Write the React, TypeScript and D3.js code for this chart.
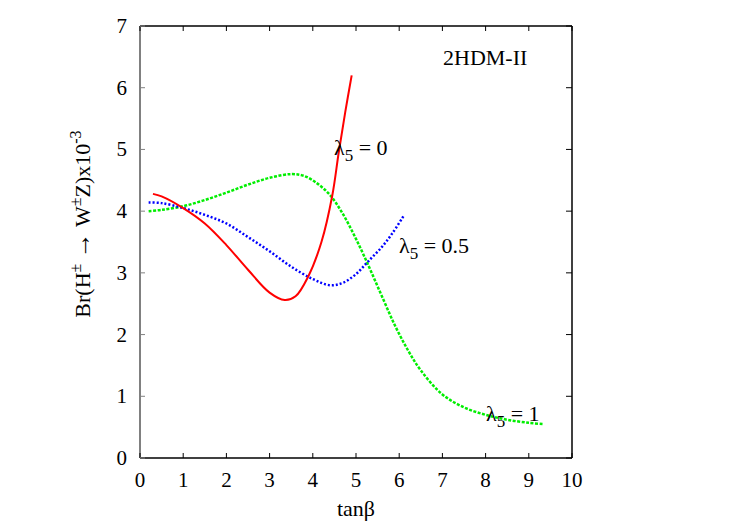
import React from "react";
import * as d3 from "d3";

// tanβ vs Br(H± -> W± Z) x 10^-3
const redX = [0.3, 0.5, 1.0, 1.5, 2.0, 2.5, 3.0, 3.35, 3.6, 3.9, 4.2, 4.45, 4.6, 4.75, 4.9];
const redY = [4.28, 4.24, 4.05, 3.8, 3.45, 3.05, 2.68, 2.56, 2.62, 2.95, 3.5, 4.25, 4.95, 5.6, 6.2];

const blueX = [0.2, 0.5, 1.0, 1.5, 2.0, 2.5, 3.0, 3.5, 4.0, 4.4, 4.7, 5.0, 5.3, 5.6, 5.85, 6.1];
const blueY = [4.14, 4.13, 4.05, 3.94, 3.8, 3.58, 3.35, 3.1, 2.9, 2.8, 2.84, 2.98, 3.2, 3.42, 3.65, 3.92];

const greenX = [0.2, 0.5, 1.0, 1.5, 2.0, 2.5, 3.0, 3.5, 3.8, 4.1, 4.4, 4.7, 5.0, 5.3, 5.6, 5.9, 6.2, 6.5, 7.0, 7.5, 8.0, 8.5, 9.0, 9.35];
const greenY = [4.0, 4.02, 4.08, 4.18, 4.3, 4.43, 4.54, 4.6, 4.57, 4.45, 4.26, 3.95, 3.55, 3.1, 2.62, 2.15, 1.75, 1.42, 1.03, 0.82, 0.7, 0.62, 0.57, 0.55];

const xTicks = [0, 1, 2, 3, 4, 5, 6, 7, 8, 9, 10];
const yTicks = [0, 1, 2, 3, 4, 5, 6, 7];

const width = 750;
const height = 525;
const margin = { top: 26, right: 178, bottom: 67, left: 140 };

export default function App() {
  const x = d3.scaleLinear().domain([0, 10]).range([margin.left, width - margin.right]);
  const y = d3.scaleLinear().domain([0, 7]).range([height - margin.bottom, margin.top]);

  function path(xs: number[], ys: number[]) {
    const pts = xs.map((v, i) => [x(v), y(ys[i])] as [number, number]);
    return d3.line().curve(d3.curveCatmullRom.alpha(0.5))(pts) || "";
  }

  const x0 = x(0);
  const x1 = x(10);
  const y0 = y(0);
  const y1 = y(7);
  const font = "'Liberation Serif', 'Times New Roman', serif";

  return (
    <svg
      width={width}
      height={height}
      style={{ position: "absolute", left: 0, top: 0, background: "white" }}
      fontFamily={font}
    >
      {/* frame */}
      <line x1={x0} x2={x1} y1={y1} y2={y1} stroke="black" strokeWidth={1.5} />
      <line x1={x1} x2={x1} y1={y1} y2={y0} stroke="black" strokeWidth={1.5} />
      <line x1={x0} x2={x1} y1={y0} y2={y0} stroke="black" strokeWidth={1.5} />
      <line x1={x0} x2={x0} y1={y1} y2={y0} stroke="#808080" strokeWidth={2} />

      {xTicks.map((t) => (
        <g key={"x" + t}>
          <line x1={x(t)} x2={x(t)} y1={y0} y2={y0 - 5} stroke="black" strokeWidth={1} />
          <line x1={x(t)} x2={x(t)} y1={y1} y2={y1 + 5} stroke="black" strokeWidth={1} />
          <text x={x(t)} y={y0 + 29} fontSize={21} textAnchor="middle">
            {t}
          </text>
        </g>
      ))}
      {yTicks.map((t) => (
        <g key={"y" + t}>
          <line x1={x0} x2={x0 + 5} y1={y(t)} y2={y(t)} stroke="#808080" strokeWidth={1} />
          <line x1={x1} x2={x1 - 6} y1={y(t)} y2={y(t)} stroke="black" strokeWidth={1} />
          <text x={127} y={y(t) + 7} fontSize={21} textAnchor="end">
            {t}
          </text>
        </g>
      ))}

      {/* curves */}
      <path d={path(greenX, greenY)} fill="none" stroke="#00ee00" strokeWidth={2.5} strokeDasharray="3,1.5" />
      <path d={path(blueX, blueY)} fill="none" stroke="#0000ff" strokeWidth={2.5} strokeDasharray="2,2" />
      <path d={path(redX, redY)} fill="none" stroke="#ff0000" strokeWidth={2} />

      {/* labels */}
      <text x={443} y={65} fontSize={22}>2HDM-II</text>
      <text x={334} y={155} fontSize={22}>
        λ<tspan fontSize={17} dy={6}>5</tspan>
        <tspan dy={-6}> = 0</tspan>
      </text>
      <text x={399} y={253} fontSize={22}>
        λ<tspan fontSize={17} dy={6}>5</tspan>
        <tspan dy={-6}> = 0.5</tspan>
      </text>
      <text x={486} y={421} fontSize={22}>
        λ<tspan fontSize={17} dy={6}>5</tspan>
        <tspan dy={-6}> = 1</tspan>
      </text>

      <text x={356} y={516} fontSize={22} textAnchor="middle">
        tanβ
      </text>
      <text transform="translate(90,224) rotate(-90)" fontSize={22} textAnchor="middle">
        Br(H<tspan fontSize={16} dy={-9}>±</tspan>
        <tspan dy={9}> </tspan>
        <tspan fontSize={26}>→</tspan>
        <tspan> W</tspan>
        <tspan fontSize={16} dy={-9}>±</tspan>
        <tspan dy={9}>Z)x10</tspan>
        <tspan fontSize={16} dy={-9}>-3</tspan>
      </text>
    </svg>
  );
}
